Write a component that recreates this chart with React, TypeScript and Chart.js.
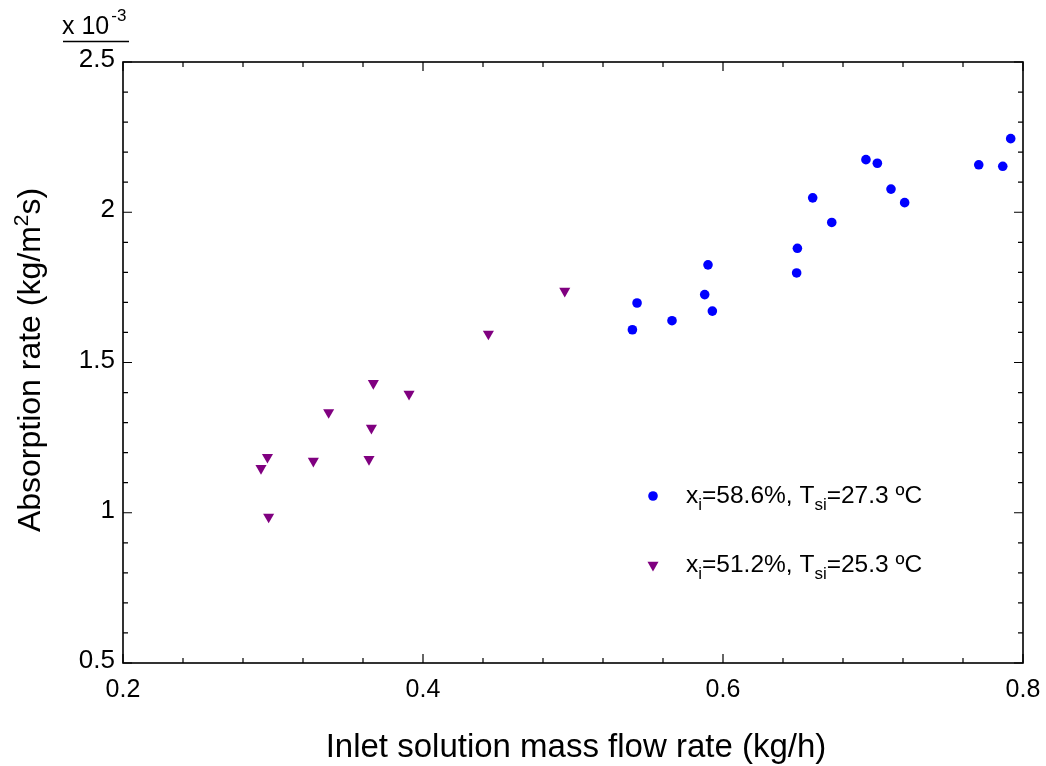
import React, { useEffect, useRef } from "react";
import { Chart, registerables } from "chart.js";

Chart.register(...registerables);

// Series 1: x_i = 58.6 %, T_si = 27.3 ºC
const flowRate586 = [0.7918, 0.6953, 0.7029, 0.7705, 0.7865, 0.712, 0.7211, 0.6598, 0.6725, 0.6496, 0.6491, 0.59, 0.5878, 0.5929, 0.5427, 0.5396, 0.566];
const absorption586 = [2.245, 2.175, 2.163, 2.158, 2.153, 2.077, 2.032, 2.048, 1.966, 1.88, 1.798, 1.825, 1.726, 1.671, 1.698, 1.609, 1.639];

// Series 2: x_i = 51.2 %, T_si = 25.3 ºC
const flowRate512 = [0.4945, 0.4436, 0.3669, 0.3907, 0.3371, 0.3656, 0.2963, 0.3269, 0.364, 0.292, 0.2971];
const absorption512 = [1.738, 1.595, 1.431, 1.395, 1.334, 1.282, 1.185, 1.172, 1.178, 1.148, 0.986];

const xTickValues = [0.2, 0.4, 0.6, 0.8];
const xTickLabels = ["0.2", "0.4", "0.6", "0.8"];
const yTickValues = [0.5, 1, 1.5, 2, 2.5];
const yTickLabels = ["0.5", "1", "1.5", "2", "2.5"];

const xTitle = "Inlet solution mass flow rate (kg/h)";
const yTitleParts = ["Absorption rate (kg/m", "2", "s)"];
const multiplierParts = ["x 10", "-3"];
const legend1 = [["x", ""], ["i", "sub"], ["=58.6%, T", ""], ["si", "sub"], ["=27.3 ºC", ""]];
const legend2 = [["x", ""], ["i", "sub"], ["=51.2%, T", ""], ["si", "sub"], ["=25.3 ºC", ""]];

const FONT = "'Liberation Sans', Arial, Helvetica, sans-serif";
const BLUE = "#0000ff";
const PURPLE = "#800080";

function drawTriangleDown(ctx: CanvasRenderingContext2D, x: number, y: number, r: number) {
  ctx.beginPath();
  for (let k = 0; k < 3; k++) {
    const a = Math.PI + (k * 2 * Math.PI) / 3;
    const px = x + Math.sin(a) * r;
    const py = y - Math.cos(a) * r;
    if (k === 0) ctx.moveTo(px, py);
    else ctx.lineTo(px, py);
  }
  ctx.closePath();
  ctx.fill();
}

function drawRich(ctx: CanvasRenderingContext2D, parts: string[][], x: number, y: number, size: number) {
  let cx = x;
  for (const [t, kind] of parts) {
    if (kind === "sub") {
      ctx.font = `${Math.round(size * 0.68)}px ${FONT}`;
      ctx.fillText(t, cx, y + size * 0.3);
    } else {
      ctx.font = `${size}px ${FONT}`;
      ctx.fillText(t, cx, y);
    }
    cx += ctx.measureText(t).width;
  }
}

const decorPlugin = {
  id: "decor",
  afterDraw(chart: any) {
    const ctx: CanvasRenderingContext2D = chart.ctx;
    const { left, right, top, bottom } = chart.chartArea;
    const xs = chart.scales.x;
    const ys = chart.scales.y;
    ctx.save();
    ctx.strokeStyle = "#000";
    ctx.fillStyle = "#000";
    // box
    ctx.lineWidth = 1.6;
    ctx.strokeRect(left, top, right - left, bottom - top);
    // ticks (inward, mirrored)
    ctx.lineWidth = 1.2;
    ctx.beginPath();
    for (let i = 0; i <= 15; i++) {
      const v = 0.2 + i * 0.04;
      const major = i % 5 === 0;
      const len = major ? 9 : 5;
      const px = xs.getPixelForValue(v);
      ctx.moveTo(px, bottom);
      ctx.lineTo(px, bottom - len);
      ctx.moveTo(px, top);
      ctx.lineTo(px, top + len);
    }
    for (let i = 0; i <= 20; i++) {
      const v = 0.5 + i * 0.1;
      const major = i % 5 === 0;
      const len = major ? 9 : 5;
      const py = ys.getPixelForValue(v);
      ctx.moveTo(left, py);
      ctx.lineTo(left + len, py);
      ctx.moveTo(right, py);
      ctx.lineTo(right - len, py);
    }
    ctx.stroke();

    // multiplier label
    ctx.textAlign = "left";
    ctx.textBaseline = "alphabetic";
    ctx.font = `25px ${FONT}`;
    ctx.fillText(multiplierParts[0], 62, 34);
    const w0 = ctx.measureText(multiplierParts[0]).width;
    ctx.font = `17px ${FONT}`;
    ctx.fillText(multiplierParts[1], 62 + w0 + 2, 21);
    ctx.lineWidth = 1.5;
    ctx.beginPath();
    ctx.moveTo(63, 41.5);
    ctx.lineTo(129, 41.5);
    ctx.stroke();

    // legend
    ctx.fillStyle = BLUE;
    ctx.beginPath();
    ctx.arc(653, 496, 4.8, 0, Math.PI * 2);
    ctx.fill();
    ctx.fillStyle = PURPLE;
    drawTriangleDown(ctx, 653, 565, 6.4);
    ctx.fillStyle = "#000";
    drawRich(ctx, legend1, 686, 503, 24.5);
    drawRich(ctx, legend2, 686, 572, 24.5);

    // x title
    ctx.font = `33px ${FONT}`;
    ctx.textAlign = "center";
    ctx.textBaseline = "alphabetic";
    ctx.fillText(xTitle, 576, 757);

    // y title (rotated, with superscript)
    ctx.translate(40, 360);
    ctx.rotate(-Math.PI / 2);
    ctx.textAlign = "left";
    const big = `32px ${FONT}`;
    const small = `21px ${FONT}`;
    ctx.font = big;
    const wa = ctx.measureText(yTitleParts[0]).width;
    const wc = ctx.measureText(yTitleParts[2]).width;
    ctx.font = small;
    const wb = ctx.measureText(yTitleParts[1]).width;
    const total = wa + wb + wc;
    let cx = -total / 2;
    ctx.font = big;
    ctx.fillText(yTitleParts[0], cx, 0);
    cx += wa;
    ctx.font = small;
    ctx.fillText(yTitleParts[1], cx, -12);
    cx += wb;
    ctx.font = big;
    ctx.fillText(yTitleParts[2], cx, 0);
    ctx.restore();
  },
};

export default function App() {
  const ref = useRef<HTMLCanvasElement | null>(null);
  useEffect(() => {
    if (!ref.current) return;
    const chart = new Chart(ref.current, {
      type: "scatter",
      data: {
        datasets: [
          {
            label: "x_i=58.6%, T_si=27.3 ºC",
            data: flowRate586.map((x, i) => ({ x, y: absorption586[i] })),
            backgroundColor: BLUE,
            borderColor: BLUE,
            pointStyle: "circle",
            pointRadius: 4.8,
            borderWidth: 0,
          },
          {
            label: "x_i=51.2%, T_si=25.3 ºC",
            data: flowRate512.map((x, i) => ({ x, y: absorption512[i] })),
            backgroundColor: PURPLE,
            borderColor: PURPLE,
            pointStyle: "triangle",
            rotation: 180,
            pointRadius: 6.4,
            borderWidth: 0,
          },
        ],
      },
      options: {
        animation: false,
        responsive: true,
        maintainAspectRatio: false,
        layout: { padding: { top: 62, right: 23, left: 0, bottom: 0 } },
        plugins: { legend: { display: false }, tooltip: { enabled: false } },
        scales: {
          x: {
            type: "linear",
            min: 0.2,
            max: 0.8,
            afterBuildTicks: (s: any) => {
              s.ticks = xTickValues.map((v) => ({ value: v }));
            },
            afterFit: (s: any) => {
              s.height = 103;
              s.paddingLeft = 0;
              s.paddingRight = 0;
            },
            grid: { display: false, drawTicks: false },
            border: { display: false },
            ticks: {
              autoSkip: false,
              maxRotation: 0,
              padding: 12,
              color: "#000",
              font: { family: FONT, size: 25 },
              callback: (_v: any, i: number) => xTickLabels[i],
            },
          },
          y: {
            type: "linear",
            min: 0.5,
            max: 2.5,
            afterBuildTicks: (s: any) => {
              s.ticks = yTickValues.map((v) => ({ value: v }));
            },
            afterFit: (s: any) => {
              s.width = 123;
              s.paddingTop = 0;
              s.paddingBottom = 0;
            },
            grid: { display: false, drawTicks: false },
            border: { display: false },
            ticks: {
              autoSkip: false,
              padding: 8,
              labelOffset: -2,
              color: "#000",
              font: { family: FONT, size: 26 },
              callback: (_v: any, i: number) => yTickLabels[i],
            },
          },
        },
      },
      plugins: [decorPlugin],
    });
    return () => chart.destroy();
  }, []);
  return (
    <div style={{ position: "absolute", left: 0, top: 0, width: 1046, height: 766, background: "#fff" }}>
      <canvas ref={ref} />
    </div>
  );
}
